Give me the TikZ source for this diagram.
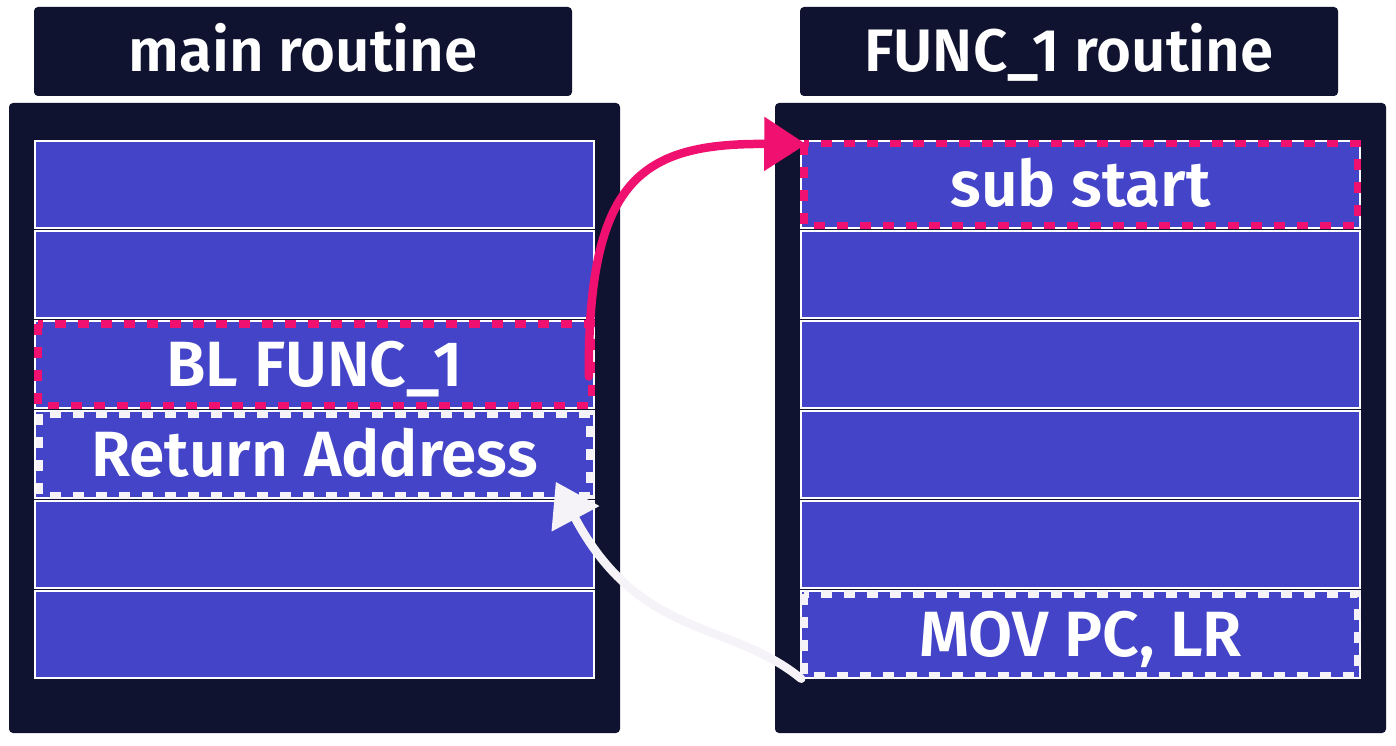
\documentclass[tikz,border=0pt]{standalone}
\usepackage{fontspec}
\setmainfont{Fira Sans SemiBold}
\usetikzlibrary{arrows.meta}
\definecolor{panel}{HTML}{10132F}
\definecolor{cellblue}{HTML}{4444C8}
\definecolor{hotpink}{HTML}{F01070}
\definecolor{offwhite}{HTML}{F5F3F8}
\tikzset{
  title/.style={fill=panel, rounded corners=4pt, minimum width=538pt, minimum height=89pt,
    inner sep=0pt, text=white, text height=41pt, text depth=0pt, font=\fontsize{60}{72}\selectfont},
  cell/.style={fill=cellblue, draw=white, line width=1.5pt, minimum width=559pt, minimum height=87pt,
    inner sep=0pt, text=white, text height=44pt, text depth=0pt, font=\fontsize{64}{76}\selectfont},
  pinkdash/.style={draw=hotpink, line width=7.5pt, dash pattern=on 11pt off 12pt},
  whitedash/.style={draw=offwhite, line width=7.5pt, dash pattern=on 11pt off 12pt},
  jump/.style={line width=8.5pt, line cap=round, -{Triangle[length=42pt,width=52pt]}}
}
\begin{document}
\begin{tikzpicture}[x=1pt,y=-1pt]
    \useasboundingbox (0,0) rectangle (1396,746);
    \fill[white] (0,0) rectangle (1396,746);
    \node[title] (maintitle) at (303,51.5) {main routine};
    \node[title] (functitle) at (1069,51.5) {FUNC\_1 routine};
    \fill[panel, rounded corners=4pt] (9,103) rectangle (620,733)
        (775,103) rectangle (1386,733);
    \foreach \i/\txt in {1/,2/,3/BL FUNC\_1,4/Return Address,5/,6/}
        \node[cell] (m\i) at (314.5,{184.5+90*(\i-1)}) {\txt};
    \foreach \i/\txt in {1/sub start,2/,3/,4/,5/,6/{MOV PC, LR}}
        \node[cell] (f\i) at (1080.5,{184.5+90*(\i-1)}) {\txt};
    \draw[pinkdash] ([shift={(3.5,3.5)}]m3.north west) rectangle ([shift={(-3.5,-3.5)}]m3.south east)
        ([shift={(3.5,3.5)}]f1.north west) rectangle ([shift={(-3.5,-3.5)}]f1.south east);
    \draw[whitedash] ([shift={(5,3.5)}]m4.north west) rectangle ([shift={(-5,-3.5)}]m4.south east)
        ([shift={(3.5,3.5)}]f6.north west) rectangle ([shift={(-3.5,-3.5)}]f6.south east);
    \draw[jump, hotpink] ([shift={(-6,12)}]m3.east) .. controls (588,180) and (640,143)
        .. ([shift={(6,4)}]f1.north west);
    \draw[jump, offwhite] ([shift={(1,0)}]f6.south west) .. controls (730,620) and (640,640)
        .. ([shift={(-39,-17)}]m4.south east);
\end{tikzpicture}
\end{document}
